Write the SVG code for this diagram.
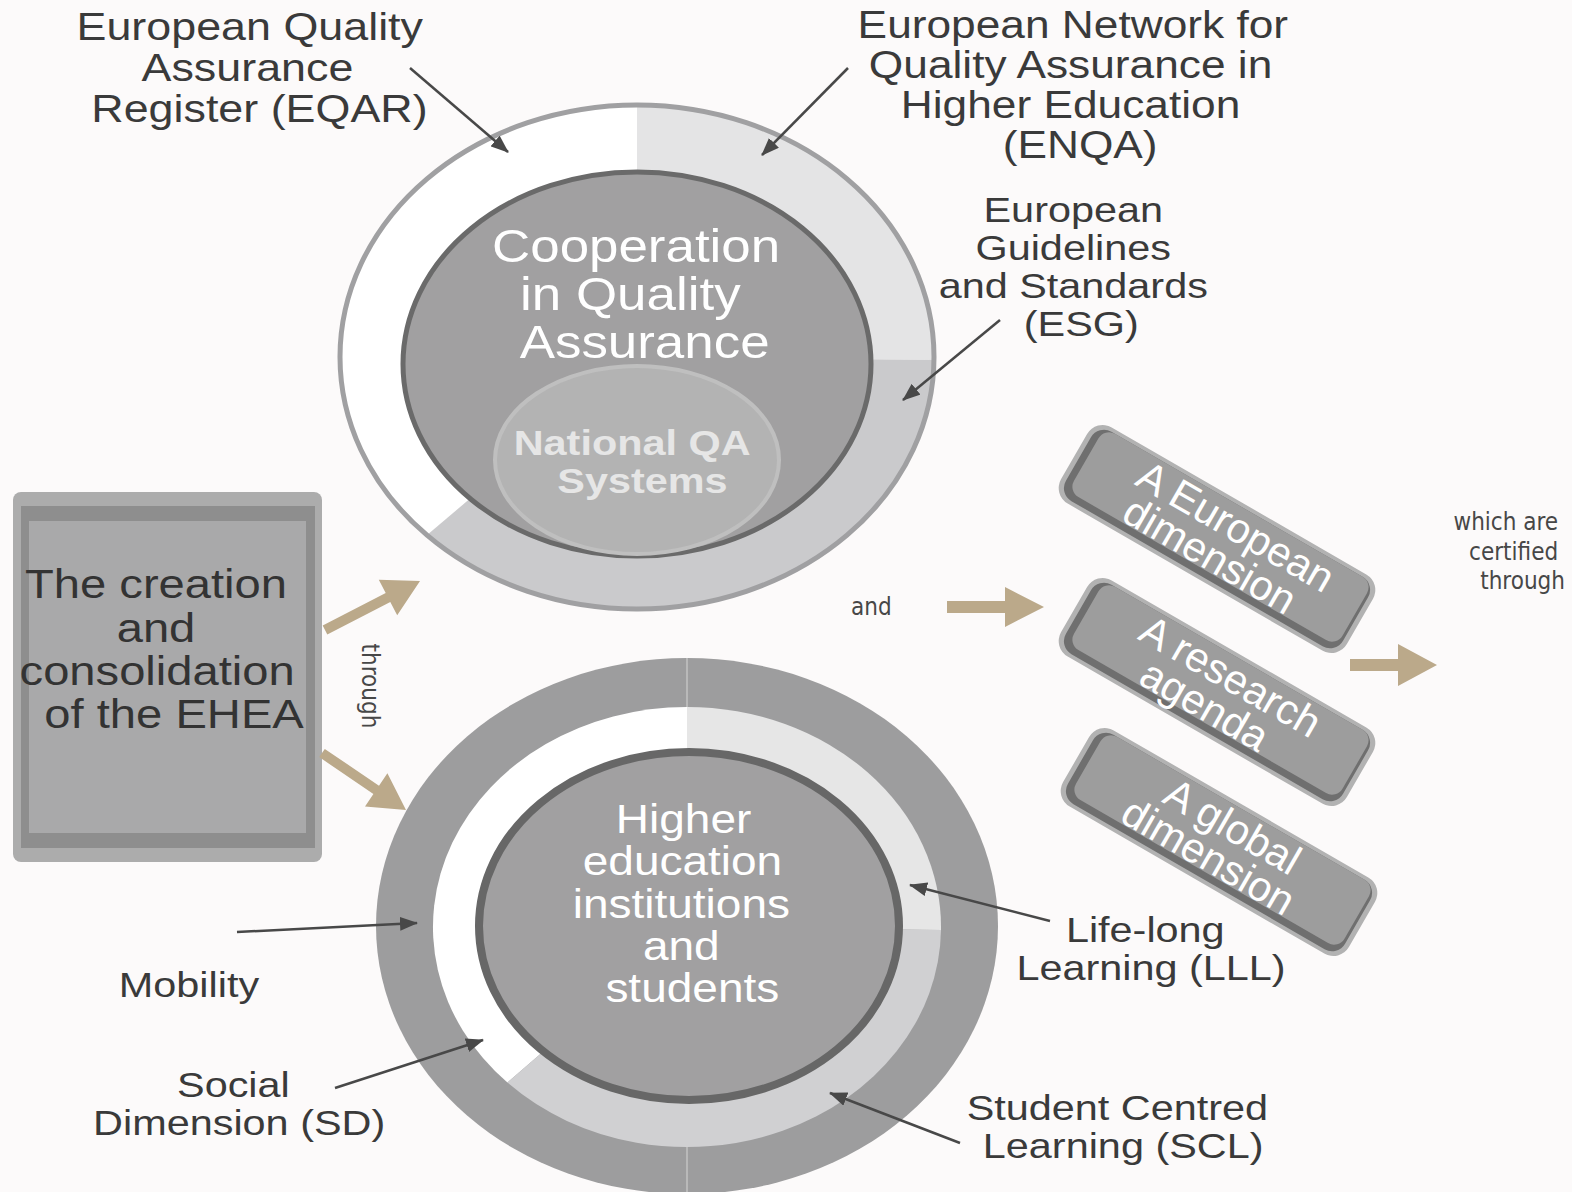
<svg xmlns="http://www.w3.org/2000/svg" width="1572" height="1192" viewBox="0 0 1572 1192">
<defs>
<style>
.lbl{font-family:"Liberation Sans",Arial,sans-serif;fill:#3a3a3a;text-anchor:middle}
.wht{font-family:"Liberation Sans",Arial,sans-serif;fill:#ffffff;text-anchor:middle}
.hand{font-family:"DejaVu Sans Condensed","DejaVu Sans",sans-serif;fill:#474747;font-size:24px}
.tan{fill:#bba98a}
.ptr{stroke:#484848;stroke-width:2.5;fill:none;marker-end:url(#head)}
.rim{fill:#b2b2b2}
.edge{fill:#6f6f6f}
.face{fill:#9d9d9d}
.dimtxt{font-family:"Liberation Sans",Arial,sans-serif;fill:#ffffff;text-anchor:middle;font-size:42px}
</style>
<marker id="head" markerUnits="userSpaceOnUse" markerWidth="18" markerHeight="14" refX="17" refY="7" orient="auto" viewBox="0 0 18 14">
<path d="M0,0 L18,7 L0,14 Z" fill="#484848"/>
</marker>
</defs>

<rect width="1572" height="1192" fill="#fcfafa"/>

<!-- Cooperation in Quality Assurance -->
<g id="qa-circle">
<path d="M637,357 L637,106 A296,251 0 0 0 427.7,534.5 Z" fill="#ffffff"/>
<path d="M637,357 L637,106 A296,251 0 0 1 933,360 Z" fill="#e4e4e5"/>
<path d="M637,357 L933,360 A296,251 0 0 1 427.7,534.5 Z" fill="#cacacc"/>
<ellipse cx="637" cy="357" rx="297" ry="252" fill="none" stroke="#a0a0a2" stroke-width="5"/>
<ellipse cx="637" cy="364" rx="234" ry="192" fill="#a1a0a1" stroke="#6a6a6a" stroke-width="5"/>
<ellipse cx="637" cy="460" rx="142" ry="94" fill="#b3b3b3" stroke="#bfbfbf" stroke-width="4"/>
<text class="wht" font-size="46" transform="translate(640 0) scale(1.15 1)">
<tspan x="3" y="262">Cooperation</tspan>
<tspan x="-2" y="310">in Quality</tspan>
<tspan x="4" y="358">Assurance</tspan>
</text>
<text font-family="Liberation Sans, Arial, sans-serif" font-weight="bold" font-size="36" fill="#e6e6e6" text-anchor="middle" transform="translate(639 0) scale(1.15 1)">
<tspan x="-1" y="455">National QA</tspan>
<tspan x="3" y="493">Systems</tspan>
</text>
</g>

<!-- Higher education institutions and students -->
<g id="hei-circle">
<ellipse cx="687" cy="926" rx="311" ry="268" fill="#9d9d9e"/>
<path d="M687,658 V708 M687,1147 V1194" stroke="#c2c2c2" stroke-width="1.5"/>
<path d="M687,927 L687,707 A254,220 0 0 0 507.4,1082.6 Z" fill="#ffffff"/>
<path d="M687,927 L687,707 A254,220 0 0 1 941,930 Z" fill="#e6e6e6"/>
<path d="M687,927 L941,930 A254,220 0 0 1 507.4,1082.6 Z" fill="#d0d0d2"/>
<ellipse cx="689" cy="926" rx="210" ry="174" fill="#a1a0a1" stroke="#676767" stroke-width="8"/>
<text class="wht" font-size="40" transform="translate(690 0) scale(1.15 1)">
<tspan x="0" y="833">Higher</tspan>
<tspan x="-1" y="875">education</tspan>
<tspan x="-2" y="918">institutions</tspan>
<tspan x="-2" y="960">and</tspan>
<tspan x="2" y="1002">students</tspan>
</text>
</g>

<!-- EHEA box -->
<g id="ehea-box">
<rect x="13" y="492" width="309" height="370" rx="8" fill="#acacac"/>
<rect x="21" y="506" width="294" height="342" fill="#8e8e8e"/>
<rect x="29" y="521" width="277" height="312" fill="#a9a9aa"/>
<text class="lbl" font-size="41" transform="translate(166 0) scale(1.15 1)" style="fill:#333333">
<tspan x="-3" y="598">The creation</tspan>
<tspan x="-3" y="642">and</tspan>
<tspan x="-2" y="685">consolidation</tspan>
<tspan x="7" y="728">of the EHEA</tspan>
</text>
</g>

<!-- outer labels -->
<g id="eqar-label">
<text class="lbl" font-size="39" transform="translate(256 0) scale(1.15 1)">
<tspan x="0" y="40">European Quality</tspan>
<tspan x="-2" y="81">Assurance</tspan>
<tspan x="3" y="122">Register (EQAR)</tspan>
</text>
</g>
<g id="enqa-label">
<text class="lbl" font-size="38.5" transform="translate(1079 0) scale(1.15 1)">
<tspan x="0" y="38">European Network for</tspan>
<tspan x="-2" y="78">Quality Assurance in</tspan>
<tspan x="-2" y="118">Higher Education</tspan>
<tspan x="1" y="158">(ENQA)</tspan>
</text>
</g>
<g id="esg-label">
<text class="lbl" font-size="36" transform="translate(1079 0) scale(1.15 1)">
<tspan x="0" y="222">European</tspan>
<tspan x="0" y="260">Guidelines</tspan>
<tspan x="0" y="298">and Standards</tspan>
<tspan x="2" y="336">(ESG)</tspan>
</text>
</g>
<g id="mobility-label">
<text class="lbl" font-size="36" transform="translate(189 0) scale(1.15 1)"><tspan x="0" y="997">Mobility</tspan></text>
</g>
<g id="sd-label">
<text class="lbl" font-size="36" transform="translate(238 0) scale(1.15 1)">
<tspan x="1" y="1097">Social</tspan>
<tspan x="1" y="1135">Dimension (SD)</tspan>
</text>
</g>
<g id="lll-label">
<text class="lbl" font-size="36" transform="translate(1151 0) scale(1.15 1)">
<tspan x="0" y="942">Life-long</tspan>
<tspan x="0" y="980">Learning (LLL)</tspan>
</text>
</g>
<g id="scl-label">
<text class="lbl" font-size="36" transform="translate(1122 0) scale(1.15 1)">
<tspan x="1" y="1120">Student Centred</tspan>
<tspan x="1" y="1158">Learning (SCL)</tspan>
</text>
</g>

<!-- dimension tabs -->
<g id="dim-european" transform="translate(1217 539) rotate(30)">
<rect class="rim" x="-165" y="-44" width="330" height="88" rx="18"/>
<rect class="edge" x="-160" y="-40" width="320" height="80" rx="15"/>
<rect class="face" x="-153" y="-40" width="310" height="73" rx="12"/>
<text class="dimtxt"><tspan x="10" y="-6">A European</tspan><tspan x="2" y="32">dimension</tspan></text>
</g>
<g id="dim-research" transform="translate(1217 692) rotate(30)">
<rect class="rim" x="-165" y="-44" width="330" height="88" rx="18"/>
<rect class="edge" x="-160" y="-40" width="320" height="80" rx="15"/>
<rect class="face" x="-153" y="-40" width="310" height="73" rx="12"/>
<text class="dimtxt"><tspan x="4" y="-6">A research</tspan><tspan x="-4" y="32">agenda</tspan></text>
</g>
<g id="dim-global" transform="translate(1219 842) rotate(30)">
<rect class="rim" x="-165" y="-44" width="330" height="88" rx="18"/>
<rect class="edge" x="-160" y="-40" width="320" height="80" rx="15"/>
<rect class="face" x="-153" y="-40" width="310" height="73" rx="12"/>
<text class="dimtxt"><tspan x="4" y="-6">A global</tspan><tspan x="-2" y="32">dimension</tspan></text>
</g>

<!-- small linking words -->
<g id="through-label">
<text class="hand" text-anchor="middle" transform="translate(362 686) rotate(90)">through</text>
</g>
<g id="and-label">
<text class="hand" x="851" y="615">and</text>
</g>
<g id="certified-label">
<text class="hand" text-anchor="end">
<tspan x="1565" y="530">which are</tspan>
<tspan x="1565" y="560">certified</tspan>
<tspan x="1565" y="589">through</tspan>
</text>
</g>

<!-- connectors -->
<g id="connectors">
<polygon class="tan" points="327.3,634.4 390.3,601.9 397.2,615.3 420,581 378.8,579.7 385.7,593.1 322.7,625.6"/>
<polygon class="tan" points="319.2,757.1 373.4,793.9 365,806.4 406,810 387.4,773.2 379,785.7 324.8,748.9"/>
<polygon class="tan" points="947,601 1005,601 1005,587 1044,607 1005,627 1005,613 947,613"/>
<polygon class="tan" points="1350,659 1398,659 1398,644 1437,665 1398,686 1398,671 1350,671"/>
<line class="ptr" x1="410" y1="68" x2="508" y2="152"/>
<line class="ptr" x1="848" y1="68" x2="762" y2="155"/>
<line class="ptr" x1="1000" y1="320" x2="903" y2="400"/>
<line class="ptr" x1="237" y1="932" x2="417" y2="923"/>
<line class="ptr" x1="335" y1="1088" x2="483" y2="1040"/>
<line class="ptr" x1="1050" y1="921" x2="910" y2="885"/>
<line class="ptr" x1="960" y1="1143" x2="830" y2="1093"/>
</g>
</svg>
